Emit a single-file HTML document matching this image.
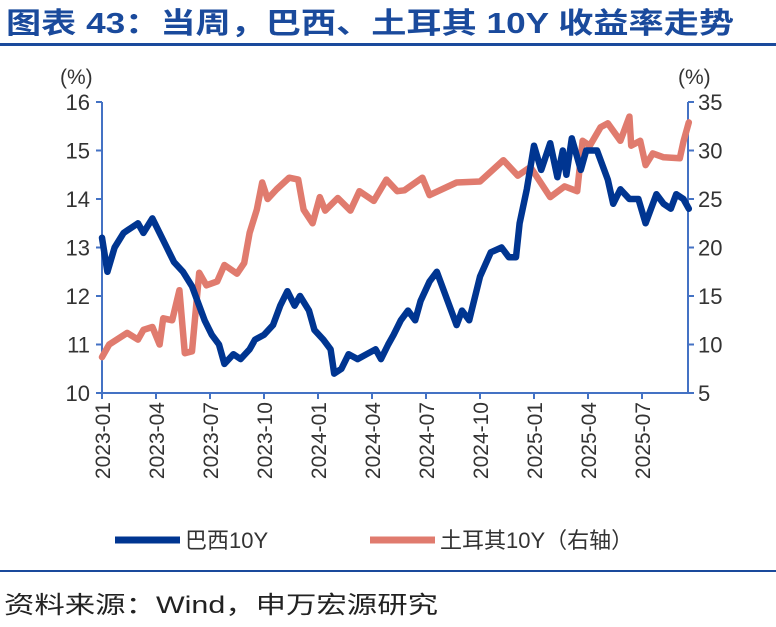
<!DOCTYPE html>
<html><head><meta charset="utf-8"><style>
body{margin:0;background:#fff;}
svg{display:block;font-family:"Liberation Sans","Noto Sans CJK SC",sans-serif;}
</style></head><body>
<svg width="776" height="627">
<text x="6" y="33" font-size="29" font-weight="bold" fill="#1a4a9c" textLength="728" lengthAdjust="spacingAndGlyphs">图表 43：当周，巴西、土耳其 10Y 收益率走势</text>
<rect x="0" y="43" width="776" height="3" fill="#1a4a9c"/>
<g id="axes"></g>
<g id="series"></g>
<g>
<line x1="115" y1="540" x2="180" y2="540" stroke="#003591" stroke-width="7"/>
<text x="185" y="548" font-size="22" fill="#333">巴西10Y</text>
<line x1="370" y1="540" x2="435" y2="540" stroke="#e07b6e" stroke-width="7"/>
<text x="440" y="548" font-size="22" fill="#333">土耳其10Y（右轴）</text>
</g>
<rect x="0" y="570" width="776" height="2" fill="#1a4a9c"/>
<text x="4" y="613" font-size="24" fill="#222" textLength="434" lengthAdjust="spacingAndGlyphs">资料来源：Wind，申万宏源研究</text>
</svg>
<script>
const xTickLabels=["2023-01","2023-04","2023-07","2023-10","2024-01","2024-04","2024-07","2024-10","2025-01","2025-04","2025-07"];
const leftTicks=[10,11,12,13,14,15,16];
const rightTicks=[5,10,15,20,25,30,35];
// months since 2023-01
const brMonths=[0,0.3,0.7,1.2,2,2.3,2.8,3.2,3.6,4,4.5,5,5.3,5.7,6.1,6.5,6.8,7.3,7.7,8.2,8.5,9,9.5,9.9,10.3,10.7,11,11.5,11.8,12.3,12.7,12.9,13.3,13.7,14.2,14.7,15.2,15.5,15.9,16.2,16.6,17,17.4,17.7,18.2,18.6,19.2,19.7,20,20.4,21,21.6,22.2,22.6,23,23.2,23.6,24,24.4,24.9,25.3,25.6,25.8,26.1,26.6,26.9,27.5,28.1,28.4,28.8,29.3,29.8,30.2,30.8,31.2,31.6,31.9,32.3,32.6];
const brValues=[13.2,12.5,13.0,13.3,13.5,13.3,13.6,13.3,13.0,12.7,12.5,12.2,11.9,11.5,11.2,11.0,10.6,10.8,10.7,10.9,11.1,11.2,11.4,11.8,12.1,11.8,12.0,11.7,11.3,11.1,10.9,10.4,10.5,10.8,10.7,10.8,10.9,10.7,11.0,11.2,11.5,11.7,11.5,11.9,12.3,12.5,11.9,11.4,11.7,11.5,12.4,12.9,13.0,12.8,12.8,13.5,14.2,15.1,14.6,15.15,14.45,15.0,14.5,15.25,14.6,15.0,15.0,14.4,13.9,14.2,14.0,14.0,13.5,14.1,13.9,13.8,14.1,14.0,13.8];
const trMonths=[0,0.4,1.4,2,2.3,2.8,3.2,3.4,3.9,4.3,4.6,5,5.4,5.8,6.4,6.8,7.5,7.9,8.2,8.6,8.9,9.2,9.7,10.4,10.9,11.2,11.7,12.1,12.4,13.1,13.8,14.3,15.1,15.8,16.4,16.8,17.8,18.2,19.7,21,22.3,23.1,23.8,24.9,25.7,26.4,26.7,27.1,27.7,28.1,28.8,29.3,29.4,29.9,30.2,30.6,31.2,32.1,32.3,32.6];
const trValues=[8.7,10,11.2,10.5,11.5,11.8,10.0,12.7,12.5,15.6,9.1,9.3,17.4,16.1,16.5,18.2,17.3,18.4,21.5,23.9,26.7,25.0,26.0,27.2,27.0,23.9,22.5,25.2,23.8,25.1,23.8,25.8,24.8,27.0,25.8,25.9,27.2,25.4,26.7,26.8,29.0,27.4,28.3,25.2,26.3,25.8,31.0,30.5,32.4,32.8,31.0,33.5,30.5,31.0,28.5,29.7,29.3,29.2,30.9,32.9];
const X0=102,X1=688,Y0=102,Y1=393,MPX=18;
const xOf=m=>X0+m*MPX;
const yL=v=>Y1-(v-10)/6*(Y1-Y0);
const yR=v=>Y1-(v-5)/30*(Y1-Y0);
const NS="http://www.w3.org/2000/svg";
const axes=document.getElementById('axes'),ser=document.getElementById('series');
function mk(tag,attrs,parent,txt){const e=document.createElementNS(NS,tag);for(const k in attrs)e.setAttribute(k,attrs[k]);if(txt!==undefined)e.textContent=txt;parent.appendChild(e);return e;}
const AX="#4472c4",TXT="#333";
let e;
e=mk('line',{x1:X0,y1:Y0,x2:X0,y2:Y1,stroke:AX,'stroke-width':2},axes);


e=mk('line',{x1:X1,y1:Y0,x2:X1,y2:Y1,stroke:AX,'stroke-width':2},axes);


e=mk('line',{x1:X0,y1:Y1,x2:X1,y2:Y1,stroke:AX,'stroke-width':2},axes);


e=mk('text',{x:60,y:84,'font-size':21,fill:TXT},axes,'(%)');


e=mk('text',{x:678,y:84,'font-size':21,fill:TXT},axes,'(%)');


leftTicks.forEach(v=>{const y=yL(v);
 mk('line',{x1:X0-6,y1:y,x2:X0,y2:y,stroke:AX,'stroke-width':2},axes);
 e=mk('text',{x:X0-12,y:y+8,'font-size':22,fill:TXT,'text-anchor':'end'},axes,v);
 
 });
rightTicks.forEach(v=>{const y=yR(v);
 mk('line',{x1:X1,y1:y,x2:X1+6,y2:y,stroke:AX,'stroke-width':2},axes);
 e=mk('text',{x:X1+10,y:y+8,'font-size':22,fill:TXT},axes,v);
 
 });
xTickLabels.forEach((l,i)=>{const x=xOf(i*3);
 mk('line',{x1:x,y1:Y1,x2:x,y2:Y1+6,stroke:AX,'stroke-width':2},axes);
 e=mk('text',{transform:`translate(${x+8},${Y1+9}) rotate(-90)`,'font-size':21,fill:TXT,'text-anchor':'end'},axes,l);
 
 });
function path(ms,vs,yf){return ms.map((m,i)=>(i?'L':'M')+xOf(m).toFixed(1)+','+yf(vs[i]).toFixed(1)).join(' ');}
e=mk('path',{d:path(trMonths,trValues,yR),fill:'none',stroke:'#e07b6e','stroke-width':6.5,'stroke-linejoin':'round','stroke-linecap':'round'},ser);


e=mk('path',{d:path(brMonths,brValues,yL),fill:'none',stroke:'#003591','stroke-width':6.5,'stroke-linejoin':'round','stroke-linecap':'round'},ser);


</script>
</body></html>
